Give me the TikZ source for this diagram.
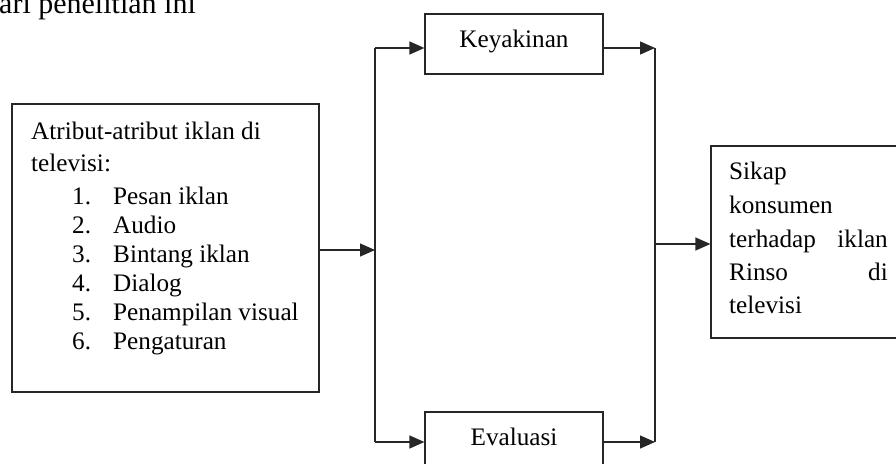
\documentclass[tikz,border=0pt]{standalone}
\usepackage{fontspec}
\setmainfont{Liberation Serif}
\usetikzlibrary{arrows.meta}
\begin{document}
\begin{tikzpicture}[x=1pt,y=-1pt,
  box/.style={draw=black!85, line width=1.2pt, rectangle, inner sep=0pt},
  conn/.style={draw=black!85, line width=1.3pt},
  arr/.style={conn, -{Triangle[length=15pt,width=13pt]}},
  txt/.style={font=\fontsize{25.2}{29}\selectfont, inner sep=0pt, anchor=base west},
  txtr/.style={txt, anchor=base east},
  txtc/.style={txt, anchor=base}]
\useasboundingbox (0,0) rectangle (896,463);
\clip (0,0) rectangle (896,463);
% top cut-off text
\node[font=\fontsize{30}{36}\selectfont, inner sep=0pt, anchor=base west] (toptext) at (-1,13.5) {ari penelitian ini};
% boxes
\node[box, minimum width=307pt, minimum height=288pt] (attr) at (165.5,248) {};
\node[box, minimum width=178pt, minimum height=60pt] (key) at (514,44) {};
\node[box, minimum width=178pt, minimum height=60pt] (eva) at (514,442) {};
\node[box, minimum width=209pt, minimum height=192pt] (sikap) at (815.5,242) {};
% texts
\node[txtc] (keyt) at (514,47) {Keyakinan};
\node[txtc] (evat) at (514,445) {Evaluasi};
\node[txt] (a1) at (31,139) {Atribut-atribut iklan di};
\node[txt] (a2) at (31,171) {televisi:};
\node[txt] (n1) at (72,204) {1.};
\node[txt] (i1) at (113,204) {Pesan iklan};
\node[txt] (n2) at (72,233) {2.};
\node[txt] (i2) at (113,233) {Audio};
\node[txt] (n3) at (72,262) {3.};
\node[txt] (i3) at (113,262) {Bintang iklan};
\node[txt] (n4) at (72,291) {4.};
\node[txt] (i4) at (113,291) {Dialog};
\node[txt] (n5) at (72,320) {5.};
\node[txt] (i5) at (113,320) {Penampilan visual};
\node[txt] (n6) at (72,349) {6.};
\node[txt] (i6) at (113,349) {Pengaturan};
\node[txt] (s1) at (729,179) {Sikap};
\node[txt] (s2) at (729,213) {konsumen};
\node[txt] (s3a) at (729,247) {terhadap};
\node[txtr] (s3b) at (888,247) {iklan};
\node[txt] (s4a) at (729,280) {Rinso};
\node[txtr] (s4b) at (888,280) {di};
\node[txt] (s5) at (729,313) {televisi};
% connectors
\coordinate (lt) at (375,48);
\coordinate (lb) at (375,442);
\coordinate (lm) at (375,250);
\coordinate (rt) at (655,48);
\coordinate (rb) at (655,442);
\coordinate (rm) at (655,244);
\draw[conn] (lt) -- (lb);
\draw[conn] (rt) -- (rb);
\draw[arr] (attr.east |- lm) -- (lm);
\draw[arr] (lt) -- (lt -| key.west);
\draw[arr] (lb) -- (lb -| eva.west);
\draw[arr] (key.east |- rt) -- (rt);
\draw[arr] (eva.east |- rb) -- (rb);
\draw[arr] (rm) -- (rm -| sikap.west);
\end{tikzpicture}
\end{document}
